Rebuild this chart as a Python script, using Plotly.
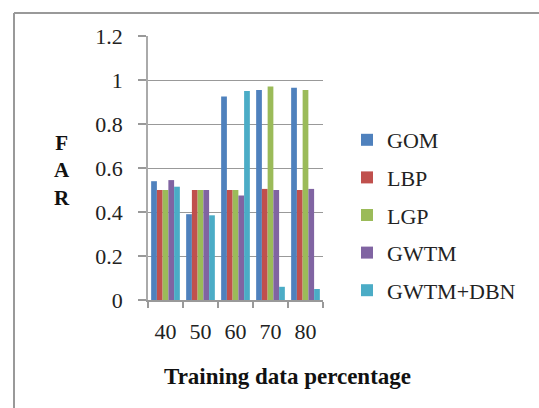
import plotly.graph_objects as go

categories = ["40", "50", "60", "70", "80"]
series_names = ["GOM", "LBP", "LGP", "GWTM", "GWTM+DBN"]
gom = [0.54, 0.39, 0.925, 0.955, 0.965]
lbp = [0.5, 0.5, 0.5, 0.505, 0.5]
lgp = [0.5, 0.5, 0.5, 0.97, 0.955]
gwtm = [0.545, 0.5, 0.475, 0.5, 0.505]
gwtm_dbn = [0.515, 0.385, 0.95, 0.06, 0.05]
colors = ["#4F81BD", "#C0504D", "#9BBB59", "#8064A2", "#4BACC6"]

series_values = [gom, lbp, lgp, gwtm, gwtm_dbn]

W, H = 539, 408
L, R, T, B = 148, 216, 36, 108
pw, ph = W - L - R, H - T - B

def px2x(X):
    return (X - L) / pw

def px2y(Y):
    return (H - B - Y) / ph

fig = go.Figure()
for i, (name, vals) in enumerate(zip(series_names, series_values)):
    fig.add_trace(go.Bar(x=categories, y=vals, name=name,
                         marker=dict(color=colors[i], line=dict(width=0)),
                         legendgroup=name))

serif = "Liberation Serif"
fig.update_layout(
    width=W, height=H,
    margin=dict(l=L, r=R, t=T, b=B),
    paper_bgcolor="white", plot_bgcolor="white",
    font=dict(family=serif, size=21, color="#222"),
    bargap=0.18, bargroupgap=0,
    showlegend=True,
    legend=dict(x=px2x(347), y=px2y(119), xanchor="left", yanchor="top",
                font=dict(family=serif, size=22, color="#222"),
                tracegroupgap=6, itemwidth=30,
                bgcolor="rgba(0,0,0,0)"),
    xaxis=dict(type="category", showline=True, linecolor="#999", linewidth=1.5,
               ticks="outside", ticklen=6, tickcolor="#999", tickwidth=1.5,
               tickson="boundaries", ticklabelstandoff=11,
               tickfont=dict(family=serif, size=22, color="#222"),
               showgrid=False),
    yaxis=dict(range=[0, 1.2], dtick=0.2, showline=True, linecolor="#aaa", linewidth=1.5,
               ticks="outside", ticklen=8, tickcolor="#999", tickwidth=1.5,
               ticklabelstandoff=11,
               tickfont=dict(family=serif, size=22, color="#222"),
               showgrid=True, gridcolor="#999", gridwidth=1.2, zeroline=False),
)

fig.add_annotation(xref="paper", yref="paper", x=px2x(62), y=px2y(170),
                   text="F<br>A<br>R", showarrow=False,
                   font=dict(family=serif, size=21, color="#111", weight="bold"),
                   align="center", xanchor="center", yanchor="middle")
fig.add_annotation(xref="paper", yref="paper", x=px2x(287), y=px2y(376),
                   text="Training data percentage", showarrow=False,
                   font=dict(family=serif, size=23, color="#111", weight="bold"),
                   xanchor="center", yanchor="middle")

# outer chart border (left and top)
fig.add_shape(type="line", xref="paper", yref="paper",
              x0=px2x(14), x1=px2x(14), y0=px2y(420), y1=px2y(13),
              line=dict(color="#999", width=2))
fig.add_shape(type="line", xref="paper", yref="paper",
              x0=px2x(14), x1=px2x(560), y0=px2y(13), y1=px2y(13),
              line=dict(color="#999", width=2))

fig.write_html("out.html")
